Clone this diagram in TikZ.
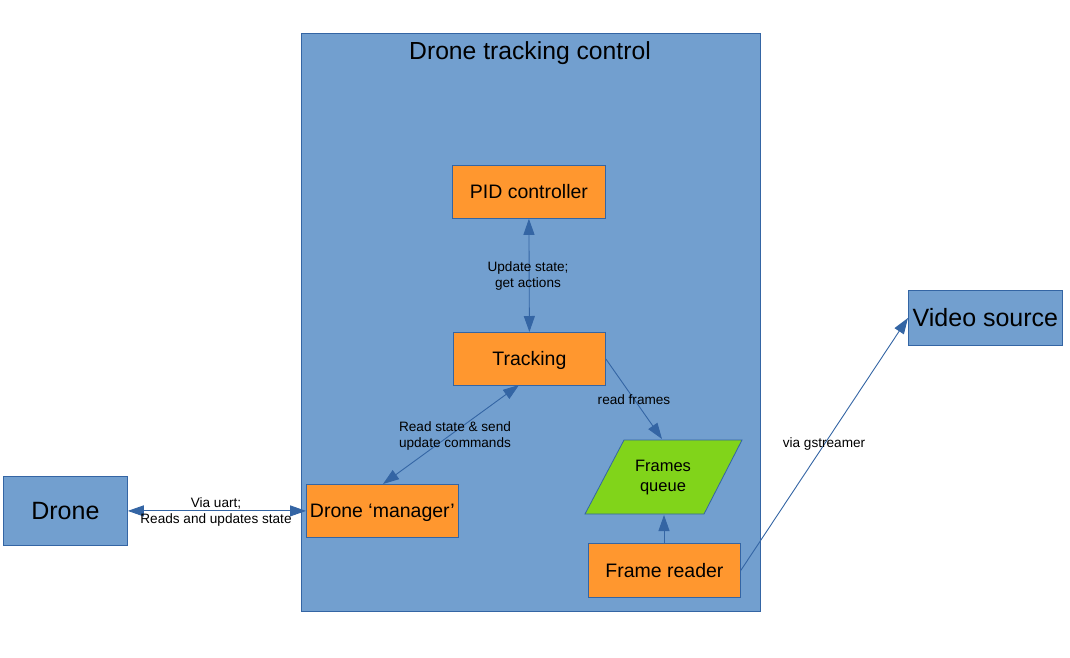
\documentclass[tikz,border=0pt]{standalone}
\usepackage{fontspec}
\setmainfont{Liberation Sans}
\usetikzlibrary{arrows.meta,calc}
\definecolor{lblue}{HTML}{729FCF}
\definecolor{dblue}{HTML}{3465A4}
\definecolor{lorange}{HTML}{FF972F}
\definecolor{lgreen}{HTML}{81D41A}
\tikzset{
  box/.style={draw=dblue, line width=0.8pt, inner sep=0pt, anchor=north west},
  orangebox/.style={box, fill=lorange, font=\fontsize{19.5}{23}\selectfont, text depth=0pt, text height=14pt},
  bluebox/.style={box, fill=lblue, font=\fontsize{25}{29}\selectfont},
  conn/.style={draw=dblue, line width=0.9pt},
  tip/.style={-{Triangle[length=16pt,width=11pt]}},
  tips/.style={{Triangle[length=16pt,width=11pt]}-{Triangle[length=16pt,width=11pt]}},
  lbl/.style={font=\fontsize{13.6}{16}\selectfont, align=center, inner sep=0pt}
}
\begin{document}
\begin{tikzpicture}[x=1pt,y=-1pt]
\useasboundingbox (0,0) rectangle (1070,657);
% container
\node[box, fill=lblue, minimum width=459pt, minimum height=578pt] (ctr) at (301,33) {};
\node[font=\fontsize{24.7}{28}\selectfont] (title) at (530,53) {Drone tracking control};
% boxes
\node[orangebox, minimum width=153pt, minimum height=53pt] (pid) at (452,165) {PID controller};
\node[orangebox, minimum width=152pt, minimum height=53pt] (trk) at (453,332) {Tracking};
\node[orangebox, minimum width=152pt, minimum height=53pt] (mgr) at (306,484) {Drone ‘manager’};
\node[orangebox, minimum width=152pt, minimum height=54pt] (frd) at (588,543) {Frame reader};
\node[bluebox, minimum width=124pt, minimum height=69pt] (drone) at (3,476) {Drone};
\node[bluebox, minimum width=154pt, minimum height=55pt] (vid) at (908,290) {Video source};
% frames queue parallelogram
\draw[draw=dblue, line width=0.8pt, fill=lgreen] (624,440) -- (742,440) -- (704,514) -- (585,514) -- cycle;
\node[font=\fontsize{16.5}{20}\selectfont, align=center, inner sep=0pt] (fq) at (663,478) {Frames\\queue};
\coordinate (fqtop) at (662,439);
\coordinate (fqbot) at (664,515);
\coordinate (trkbot) at (519,385);
\coordinate (mgrtop) at (383,484);
% connectors
\draw[conn, tips] (pid.south) -- (trk.north);
\node[lbl] (l1) at (528,276) {Update state;\\get actions};
\draw[conn, tips] (trkbot) -- (mgrtop);
\node[lbl] (l2) at (455,436) {Read state \& send\\update commands};
\draw[conn, tip] (trk.east) -- (fqtop);
\node[lbl] (l3) at (634,400) {read frames};
\draw[conn, tip] (frd.north -| fqbot) -- (fqbot);
\draw[conn, tips] (drone.east) -- (mgr.west);
\node[lbl] (l4) at (216,512) {Via uart;\\Reads and updates state};
\draw[conn, tip] (frd.east) -- (vid.west);
\node[lbl] (l5) at (824,444) {via gstreamer};
\end{tikzpicture}
\end{document}
